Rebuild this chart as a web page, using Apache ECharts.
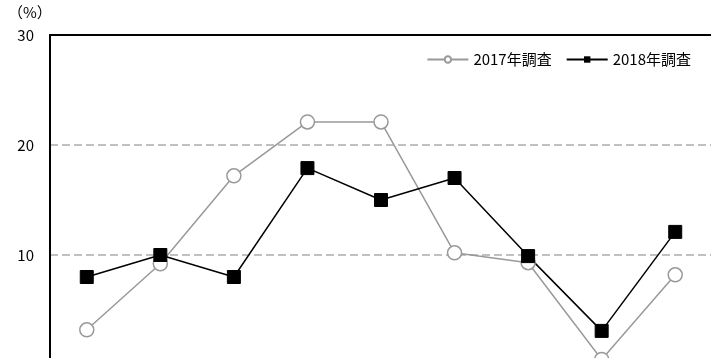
<!DOCTYPE html>
<html>
<head>
<meta charset="utf-8">
<script src="https://cdn.jsdelivr.net/npm/echarts@6/dist/echarts.min.js"></script>
<style>
  html, body { margin: 0; padding: 0; background: #fff; }
  #chart { width: 711px; height: 358px; }
</style>
</head>
<body>
<div id="chart"></div>
<script>
// 9 categories, axis labels not visible in the picture
const categories = ['1', '2', '3', '4', '5', '6', '7', '8', '9'];
const survey2017 = [3.2, 9.2, 17.2, 22.1, 22.1, 10.2, 9.3, 0.5, 8.2];
const survey2018 = [8.0, 10.0, 8.0, 17.9, 15.0, 17.0, 9.9, 3.1, 12.1];
const yTicks = [0, 10, 20, 30];

const chart = echarts.init(document.getElementById('chart'));

const fontFamily = '"Noto Sans CJK JP", "Noto Sans", sans-serif';

const option = {
    animation: false,
    textStyle: {fontFamily: fontFamily},
    grid: {
        left: 50,
        top: 35,
        width: 662,
        height: 330,
        outerBoundsMode: 'none',
        containLabel: false
    },
    graphic: [{
        type: 'text',
        left: 8,
        top: 5,
        style: {text: '（%）', fontSize: 15, fill: '#000', fontFamily: fontFamily}
    }],
    legend: {
        right: 15,
        top: 47,
        itemWidth: 41,
        itemHeight: 8,
        itemGap: 14,
        textStyle: {fontSize: 15, color: '#000', fontFamily: fontFamily},
        data: ['2017年調査', '2018年調査']
    },
    xAxis: [
        {
            type: 'category',
            data: categories,
            axisLine: {show: false},
            axisTick: {show: false},
            axisLabel: {show: false}
        },
        {
            // top border of the plot
            type: 'category',
            position: 'top',
            data: categories,
            axisLine: {show: true, lineStyle: {color: '#000', width: 2}},
            axisTick: {show: false},
            axisLabel: {show: false}
        }
    ],
    yAxis: {
        type: 'value',
        min: yTicks[0],
        max: yTicks[yTicks.length - 1],
        interval: 10,
        axisLine: {show: true, lineStyle: {color: '#000', width: 2}},
        axisTick: {show: false},
        axisLabel: {
            color: '#000',
            fontSize: 15,
            margin: 16,
            formatter: v => (v === 0 ? '' : String(v))
        },
        splitLine: {
            show: true,
            lineStyle: {color: '#c0c0c0', width: 2, type: [8, 4]}
        }
    },
    series: [
        {
            name: '2017年調査',
            type: 'line',
            data: survey2017,
            symbol: 'circle',
            symbolSize: 14,
            lineStyle: {color: '#999', width: 1.5},
            itemStyle: {color: '#fff', borderColor: '#999', borderWidth: 1.5}
        },
        {
            name: '2018年調査',
            type: 'line',
            data: survey2018,
            symbol: 'rect',
            symbolSize: 13,
            lineStyle: {color: '#000', width: 1.5},
            itemStyle: {color: '#000', borderColor: '#000'}
        }
    ]
};

chart.setOption(option);
</script>
</body>
</html>
